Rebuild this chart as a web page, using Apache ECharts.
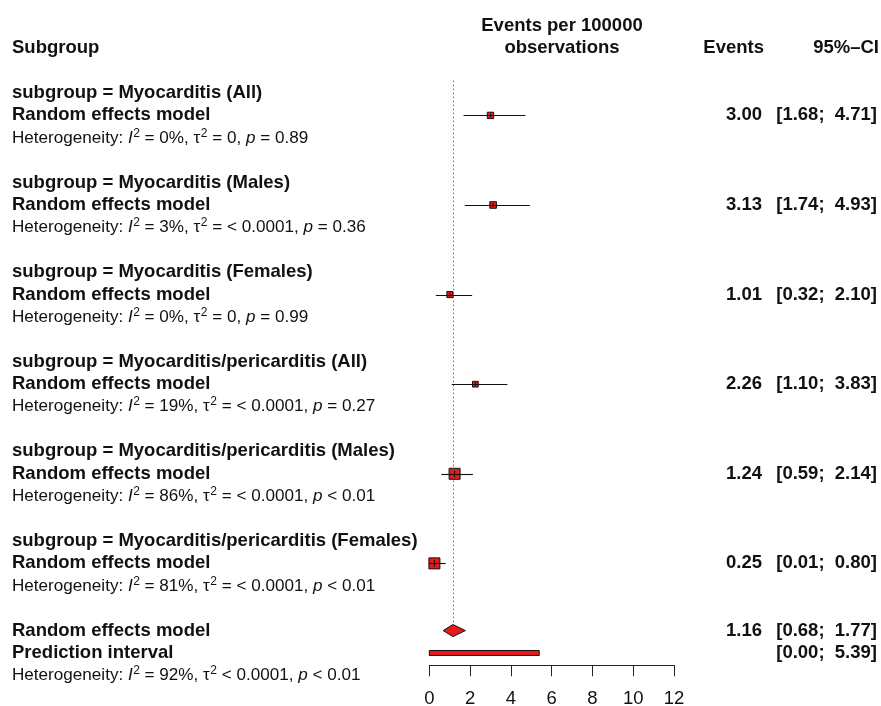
<!DOCTYPE html>
<html>
<head>
<meta charset="utf-8">
<script src="https://cdn.jsdelivr.net/npm/echarts@6/dist/echarts.min.js"></script>
<style>
html,body{margin:0;padding:0;background:#fff;}
#chart{width:881px;height:706px;}
</style>
</head>
<body>
<div id="chart"></div>
<script>
// ---------- DATA ----------
const subgroups = [
  'subgroup = Myocarditis (All)',
  'subgroup = Myocarditis (Males)',
  'subgroup = Myocarditis (Females)',
  'subgroup = Myocarditis/pericarditis (All)',
  'subgroup = Myocarditis/pericarditis (Males)',
  'subgroup = Myocarditis/pericarditis (Females)'
];
const estimates = [3.00, 3.13, 1.01, 2.26, 1.24, 0.25];
const lowerCI   = [1.68, 1.74, 0.32, 1.10, 0.59, 0.01];
const upperCI   = [4.71, 4.93, 2.10, 3.83, 2.14, 0.80];
const weights   = [0.58, 0.6, 0.55, 0.52, 1.00, 1.00];
const hetI2     = ['0%', '3%', '0%', '19%', '86%', '81%'];
const hetTau2   = ['= 0', '= < 0.0001', '= 0', '= < 0.0001', '= < 0.0001', '= < 0.0001'];
const hetP      = ['= 0.89', '= 0.36', '= 0.99', '= 0.27', '< 0.01', '< 0.01'];
const overallEst = 1.16, overallLower = 0.68, overallUpper = 1.77;
const predLower = 0.00, predUpper = 5.39;
const overallHet = { i2: '= 92%', tau2: '< 0.0001', p: '< 0.01' };
const xTicks = [0, 2, 4, 6, 8, 10, 12];
const headers = { subgroup: 'Subgroup', axis1: 'Events per 100000', axis2: 'observations', events: 'Events', ci: '95%\u2013CI' };
const modelLabel = 'Random effects model';
const predLabel = 'Prediction interval';

// ---------- LAYOUT ----------
const ROWS_PER_GROUP = 4;
const RED = '#e41a1c';
const TXT = '#111';
const BOLD = 18.5, REG = 17.1;
const FONT = 'Liberation Sans, Arial, Helvetica, sans-serif';
const COL_LEFT = 12, COL_HEAD = 562, COL_EST = 762, COL_CI = 877;

const fmt = v => v.toFixed(2);
const ciStr = (l, u) => '[' + fmt(l) + ';  ' + fmt(u) + ']';
const hetRich = (i2, tau2, p) =>
  'Heterogeneity: {it|I}{sup|2} ' + i2 + ', \u03c4{sup|2} ' + tau2 + ', {it|p} ' + p;

// text items: [row, x, align, kind, text]
const texts = [];
texts.push([-3, COL_HEAD, 'center', 'b', headers.axis1]);
texts.push([-2, COL_HEAD, 'center', 'b', headers.axis2]);
texts.push([-2, COL_LEFT, 'left', 'b', headers.subgroup]);
texts.push([-2, COL_EST + 2, 'right', 'b', headers.events]);
texts.push([-2, COL_CI + 2, 'right', 'b', headers.ci]);
subgroups.forEach((s, i) => {
  const r = i * ROWS_PER_GROUP;
  texts.push([r, COL_LEFT, 'left', 'b', s]);
  texts.push([r + 1, COL_LEFT, 'left', 'b', modelLabel]);
  texts.push([r + 2, COL_LEFT, 'left', 'h', hetRich('= ' + hetI2[i], hetTau2[i], hetP[i])]);
  texts.push([r + 1, COL_EST, 'right', 'b', fmt(estimates[i])]);
  texts.push([r + 1, COL_CI, 'right', 'b', ciStr(lowerCI[i], upperCI[i])]);
});
const oRow = subgroups.length * ROWS_PER_GROUP;
texts.push([oRow, COL_LEFT, 'left', 'b', modelLabel]);
texts.push([oRow + 1, COL_LEFT, 'left', 'b', predLabel]);
texts.push([oRow + 2, COL_LEFT, 'left', 'h', hetRich(overallHet.i2, overallHet.tau2, overallHet.p)]);
texts.push([oRow, COL_EST, 'right', 'b', fmt(overallEst)]);
texts.push([oRow, COL_CI, 'right', 'b', ciStr(overallLower, overallUpper)]);
texts.push([oRow + 1, COL_CI, 'right', 'b', ciStr(predLower, predUpper)]);

const studyData = estimates.map((e, i) => [e, i * ROWS_PER_GROUP + 1, lowerCI[i], upperCI[i], weights[i]]);

const chart = echarts.init(document.getElementById('chart'), null, { renderer: 'canvas' });
const option = {
  animation: false,
  backgroundColor: '#fff',
  grid: { left: 429.3, width: 244.7, top: 3.4, height: 661.9, outerBoundsMode: 'none', containLabel: false },
  xAxis: {
    type: 'value', min: 0, max: 12, interval: 2,
    axisLine: { show: true, onZero: false, lineStyle: { color: '#222', width: 1 } },
    axisTick: { show: true, length: 11, lineStyle: { color: '#222', width: 1 } },
    axisLabel: { fontSize: 18.5, color: TXT, fontFamily: FONT, margin: 24,
      formatter: v => (xTicks.indexOf(v) >= 0 ? String(v) : '') },
    splitLine: { show: false }
  },
  yAxis: { type: 'value', min: -4, max: 25.55, inverse: true, show: false },
  series: [
    { // reference dotted line at overall estimate
      type: 'custom', clip: false, silent: true,
      data: [[overallEst, -0.55, 23.65]],
      renderItem: (params, api) => {
        const a = api.coord([api.value(0), api.value(1)]);
        const b = api.coord([api.value(0), api.value(2)]);
        return { type: 'line', shape: { x1: Math.round(a[0]) + 0.5, y1: a[1], x2: Math.round(a[0]) + 0.5, y2: b[1] },
          style: { stroke: '#6a6a6a', lineWidth: 1, lineDash: [1.5, 2.5] } };
      }
    },
    { // study squares + CI lines
      type: 'custom', clip: false, silent: true,
      data: studyData,
      renderItem: (params, api) => {
        const c = api.coord([api.value(0), api.value(1)]);
        const l = api.coord([api.value(2), api.value(1)]);
        const u = api.coord([api.value(3), api.value(1)]);
        const s = 11 * api.value(4);
        const y = Math.round(c[1]) + 0.5;
        return { type: 'group', children: [
          { type: 'rect', shape: { x: c[0] - s / 2, y: c[1] - s / 2, width: s, height: s },
            style: { fill: RED, stroke: '#111', lineWidth: 1 } },
          { type: 'line', shape: { x1: l[0], y1: y, x2: u[0], y2: y },
            style: { stroke: '#111', lineWidth: 1.1 } },
          { type: 'line', shape: { x1: c[0], y1: c[1] - s * 0.3, x2: c[0], y2: c[1] + s * 0.3 },
            style: { stroke: '#111', lineWidth: 1 } }
        ] };
      }
    },
    { // overall diamond
      type: 'custom', clip: false, silent: true,
      data: [[overallEst, oRow, overallLower, overallUpper]],
      renderItem: (params, api) => {
        const c = api.coord([api.value(0), api.value(1)]);
        const l = api.coord([api.value(2), api.value(1)]);
        const u = api.coord([api.value(3), api.value(1)]);
        const h = 6;
        return { type: 'polygon', shape: { points: [[l[0], c[1]], [c[0], c[1] - h], [u[0], c[1]], [c[0], c[1] + h]] },
          style: { fill: RED, stroke: '#111', lineWidth: 1 } };
      }
    },
    { // prediction interval bar
      type: 'custom', clip: false, silent: true,
      data: [[predLower, predUpper, oRow + 1]],
      renderItem: (params, api) => {
        const l = api.coord([api.value(0), api.value(2)]);
        const u = api.coord([api.value(1), api.value(2)]);
        const h = 5;
        return { type: 'rect', shape: { x: l[0], y: l[1] - h / 2, width: u[0] - l[0], height: h },
          style: { fill: RED, stroke: '#111', lineWidth: 1 } };
      }
    },
    { // texts
      type: 'custom', clip: false, silent: true,
      data: texts.map((t, i) => [0, t[0], i]),
      renderItem: (params, api) => {
        const t = texts[api.value(2)];
        const p = api.coord([0, t[0]]);
        const bold = t[3] === 'b';
        return { type: 'text', x: t[1], y: p[1],
          style: {
            text: t[4], align: t[2], verticalAlign: 'middle',
            fontSize: bold ? BOLD : REG, fontWeight: bold ? 'bold' : 'normal',
            fontFamily: FONT, fill: TXT,
            rich: {
              it: { fontStyle: 'italic', fontSize: REG, fontFamily: FONT, fill: TXT },
              sup: { fontSize: 12, fontFamily: FONT, fill: TXT, verticalAlign: 'top', padding: [0, 0, 9, 0.5] }
            }
          } };
      }
    }
  ]
};
chart.setOption(option);
</script>
</body>
</html>
